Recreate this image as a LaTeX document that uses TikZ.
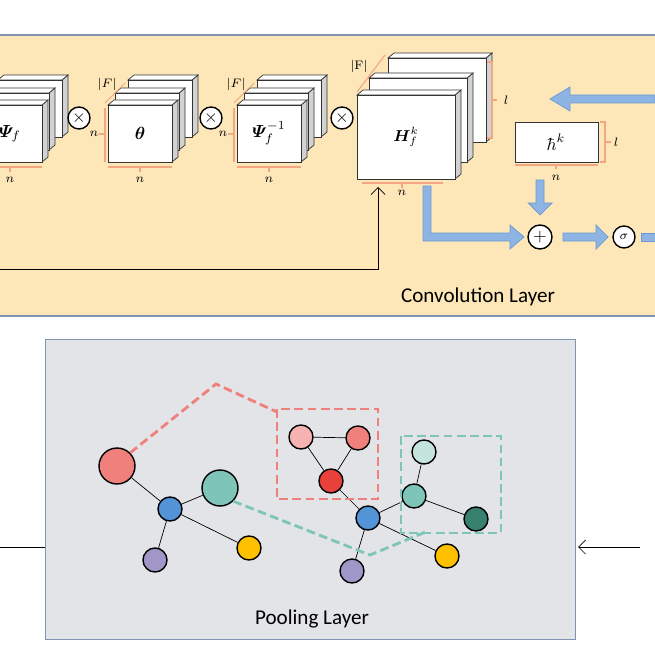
\documentclass[tikz,border=0pt]{standalone}
\usepackage{amsmath}
\usepackage{bm}
\usepackage{fontspec}
\setsansfont{Carlito}
\usetikzlibrary{arrows.meta,positioning,calc}
\definecolor{convbg}{RGB}{253,230,184}
\definecolor{poolbg}{RGB}{226,228,231}
\definecolor{frameblue}{RGB}{127,147,179}
\definecolor{brk}{RGB}{244,165,130}
\definecolor{flowfill}{RGB}{141,180,226}
\definecolor{flowdraw}{RGB}{108,155,210}
\definecolor{nred}{RGB}{240,128,124}
\definecolor{npink}{RGB}{245,178,176}
\definecolor{nredd}{RGB}{232,64,58}
\definecolor{nblue}{RGB}{82,148,214}
\definecolor{nteal}{RGB}{126,196,184}
\definecolor{nlteal}{RGB}{196,228,220}
\definecolor{ndteal}{RGB}{56,128,112}
\definecolor{npurple}{RGB}{160,150,200}
\definecolor{nyellow}{RGB}{255,192,0}
\tikzset{
    op/.style={circle, draw, thick, fill=white, inner sep=0pt, minimum size=0.44cm},
    vtx/.style={circle, draw, thick, minimum size=0.48cm, inner sep=0pt},
    bigvtx/.style={vtx, minimum size=0.72cm},
    flow/.style={draw=flowdraw, fill=flowfill, line width=0.4pt},
    brace/.style={draw=brk, line width=0.6pt},
    dim/.style={font=\scriptsize, inner sep=1pt},
    pooldash/.style={line width=1.6pt, dash pattern=on 5pt off 2.5pt}
}
% one slab: x, y, width, height
\newcommand{\slab}[4]{
    \fill[gray!35, draw=black!80] (#1+#3,#2) -- ++(6,-5) -- ++(0,#4) -- (#1+#3,#2+#4) -- cycle;
    \fill[white, draw=black!80] (#1,#2) -- ++(6,-5) -- ++(#3,0) -- (#1+#3,#2) -- cycle;
    \draw[fill=white, draw=black!80] (#1,#2) rectangle ++(#3,#4);
}
\newcommand{\stackof}[6]{
    \foreach \dx/\dy in {#5} {\slab{#1+\dx}{#2+\dy}{#3}{#4}}
    \node[inner sep=1pt] at (#1+#3/2,#2+#4/2) {#6};
}
\begin{document}
\begin{tikzpicture}[x=0.02cm, y=-0.02cm]
    \useasboundingbox (0,0) rectangle (655,655);
    % Convolution panel
    \fill[convbg] (0,35) rectangle (655,316);
    \draw[frameblue, thick] (0,35) -- (655,35) (0,316) -- (655,316);
    \node[font=\sffamily\large] (convlabel) at (478,297) {Convolution Layer};

    % Stacks
    \stackof{-22}{105}{64}{57}{20/-25,7/-12,0/0}{$\bm{\varPsi}_f$}
    \stackof{108}{105}{64}{57}{20/-25,7/-12,0/0}{$\bm{\theta}$}
    \stackof{237}{105}{64}{57}{20/-25,7/-12,0/0}{$\bm{\varPsi}_f^{-1}$}
    \stackof{357}{95}{98}{84}{31/-37,12/-17,0/0}{\small$\bm{H}_f^k$}
    \draw[fill=white, draw=black!80] (515,122) rectangle (598,162);
    \node (hk) at (556,142) {$\hbar^k$};

    \node[op] (m1) at (79,118) {$\times$};
    \node[op] (m2) at (211,118) {$\times$};
    \node[op] (m3) at (342,118) {$\times$};

    % Dimension brackets
    \foreach \x/\w in {108/64, 237/64} {
        \draw[brace] (\x,167) -- (\x+\w,167);
        \draw[brace] (\x+\w/2,167) -- ++(0,5);
        \node[dim] at (\x+\w/2,180) {$n$};
        \draw[brace] (\x-3,108) -- (\x-3,162);
        \draw[brace] (\x-3,134) -- ++(-6,0);
        \node[dim] at (\x-14,134) {$n$};
        \draw[brace] (\x-3,103) -- (\x+17,83);
        \node[dim] at (\x-1,84) {$|F|$};
    }
    \draw[brace] (-22,167) -- (42,167) (10,167) -- ++(0,5);
    \node[dim] at (10,180) {$n$};
    \draw[brace] (362,183) -- (443,183) (402,183) -- ++(0,5);
    \node[dim] at (402,193) {$n$};
    \draw[brace] (357,92) -- (385,55);
    \node[dim] at (359,66) {$|\mathrm{F}|$};
    \draw[brace] (487,62) -- (492,62) -- (492,138) -- (487,138) (492,100) -- ++(5,0);
    \node[dim] (ldim) at (506,100) {$l$};
    \draw[brace] (515,165) -- (598,165) (556,165) -- ++(0,4);
    \node[dim] at (556,178) {$n$};
    \draw[brace] (600,122) -- (605,122) -- (605,162) -- (600,162) (605,142) -- ++(6,0);
    \node[dim] at (616,142) {$l$};

    % Flow arrows
    \node[op, minimum size=0.48cm] (plus) at (540,237) {$+$};
    \node[op] (sig) at (624,237) {\scriptsize$\sigma$};
    \path[flow] (655,95) -- (570,95) -- (570,87) -- (550,99) -- (570,111) -- (570,103) -- (655,103) -- cycle;
    \path[flow] (536,180) -- (544,180) -- (544,203) -- (552,203) -- (540,215) -- (528,203) -- (536,203) -- cycle;
    \path[flow] (423,186) -- (431,186) -- (431,233) -- (510,233) -- (510,225) -- (524,237) -- (510,249) -- (510,241) -- (423,241) -- cycle;
    \path[flow] (563,233) -- (596,233) -- (596,225) -- (608,237) -- (596,249) -- (596,241) -- (563,241) -- cycle;
    \path[flow] (641,233) -- (655,233) -- (655,241) -- (641,241) -- cycle;
    \coordinate (skip) at (0,269);
    \draw[-{Straight Barb[length=4pt]}] (skip) -- (378,269) -- (378,187);

    % Pooling panel
    \draw[fill=poolbg, draw=frameblue] (45,339) rectangle (575,639);
    \node[font=\sffamily\large] (poollabel) at (312,619) {Pooling Layer};
    \coordinate (inL) at (0,547);
    \coordinate (inR) at (640,547);
    \draw (inL) -- (45,547);
    \draw[-{Straight Barb[length=4pt]}] (inR) -- (578,547);

    \node[bigvtx, fill=nred] (r1) at (117,466) {};
    \node[vtx, fill=nblue] (b1) at (170,509) {};
    \node[bigvtx, fill=nteal] (t1) at (220,488) {};
    \node[vtx, fill=npurple] (p1) at (155,560) {};
    \node[vtx, fill=nyellow] (y1) at (249,548) {};
    \node[vtx, fill=npink] (pk) at (301,437) {};
    \node[vtx, fill=nred] (sa) at (358,438) {};
    \node[vtx, fill=nredd] (rd) at (331,481) {};
    \node[vtx, fill=nblue] (b2) at (368,518) {};
    \node[vtx, fill=nteal] (t2) at (414,496) {};
    \node[vtx, fill=nlteal] (lt) at (424,452) {};
    \node[vtx, fill=ndteal] (dt) at (476,519) {};
    \node[vtx, fill=npurple] (p2) at (352,571) {};
    \node[vtx, fill=nyellow] (y2) at (447,556) {};
    \foreach \a/\b in {r1/b1, b1/t1, b1/p1, b1/y1, pk/sa, pk/rd, sa/rd, rd/b2, b2/t2, b2/p2, b2/y2, t2/lt, t2/dt}
        \draw (\a) -- (\b);

    \draw[pooldash, nred] (277,409) rectangle (378,499);
    \draw[pooldash, nred] (r1.north east) -- (216,384) -- (277,412);
    \draw[pooldash, nteal] (401,436) rectangle (501,533);
    \draw[pooldash, nteal] (t1.south east) -- (370,555) -- (428,531);
\end{tikzpicture}
\end{document}
